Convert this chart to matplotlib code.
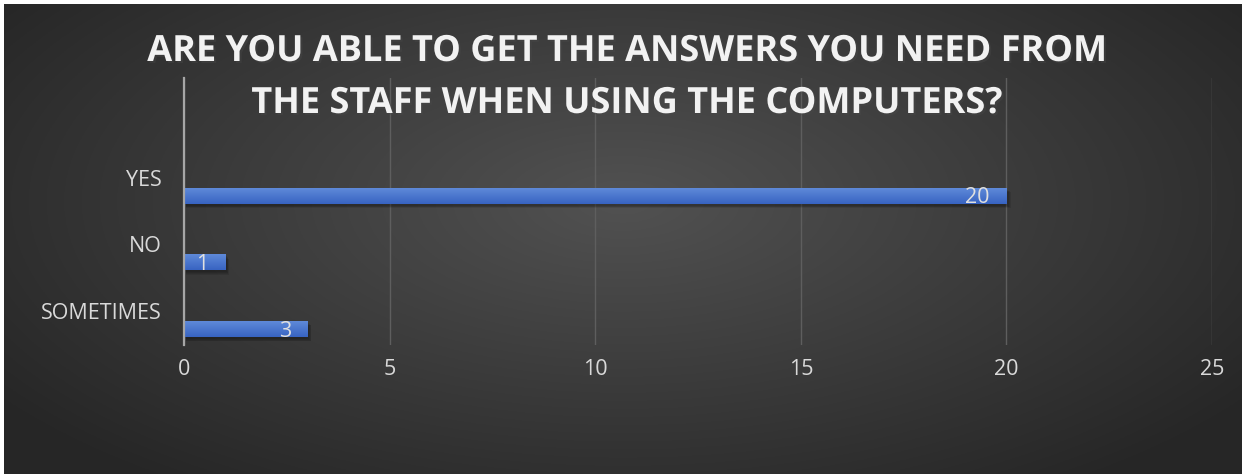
import numpy as np
import matplotlib
matplotlib.use('Agg')
import matplotlib.pyplot as plt
import matplotlib.patheffects as pe

categories = ['SOMETIMES', 'NO', 'YES']
counts = [3, 1, 20]
x_ticks = [0, 5, 10, 15, 20, 25]
title_lines = ['ARE YOU ABLE TO GET THE ANSWERS YOU NEED FROM',
               'THE STAFF WHEN USING THE COMPUTERS?']

W, H = 1242, 474
fig = plt.figure(figsize=(W / 100, H / 100), dpi=100)
fig.patch.set_facecolor('white')

# dark radial background, leaving a thin white strip top and left
bg = fig.add_axes([4 / W, 0, 1 - 4 / W, 1 - 4 / H])
bg.set_axis_off()
yy, xx = np.mgrid[0:1:300j, 0:1:700j]
r = np.sqrt(((xx - 0.5) / 0.62) ** 2 + ((yy - 0.42) / 0.75) ** 2)
shade = np.clip(0.32 - 0.17 * r, 0.15, 0.33)
bg.imshow(np.dstack([shade] * 3), extent=[0, 1, 0, 1], aspect='auto', origin='upper')
bg.set_xlim(0, 1)
bg.set_ylim(0, 1)

ax = fig.add_axes([184 / W, 1 - 345 / H, (1212 - 184) / W, (345 - 78) / H])
ax.patch.set_alpha(0)
ypos = np.arange(len(categories))
bar_y = ypos - 0.27
bar_h = 0.24

for v, y in zip(counts, bar_y):
    # soft shadow under the bar
    for k in range(4):
        ax.barh(y - 0.03 - 0.012 * k, v + 0.02 * k, height=bar_h, left=0.04,
                color='black', alpha=0.09, linewidth=0, zorder=2)
    grad = np.linspace(0, 1, 50).reshape(-1, 1)
    top = np.array([0.37, 0.54, 0.85])
    bot = np.array([0.22, 0.39, 0.76])
    img = top + (bot - top) * grad[:, :, None]
    ax.imshow(img, extent=[0, v, y - bar_h / 2, y + bar_h / 2], aspect='auto',
              origin='upper', zorder=3)
    ax.text(v - 0.4, y - 0.03, str(v), ha='right', va='center',
            color='#e0e0e0', fontsize=15.5, family='Open Sans', zorder=4)

ax.set_xlim(0, 25)
ax.set_ylim(-0.51, 3.5)
ax.set_xticks(x_ticks)
ax.set_yticks(ypos)
ax.set_yticklabels(categories)
ax.grid(axis='x', color='#5e5e5e', linewidth=1, zorder=0)
ax.set_axisbelow(True)
for s in ['top', 'right', 'bottom']:
    ax.spines[s].set_visible(False)
ax.spines['left'].set_color('#a6a6a6')
ax.spines['left'].set_linewidth(1.6)
ax.spines['left'].set_zorder(5)
ax.tick_params(axis='both', length=0, colors='#d9d9d9', labelsize=15.5)
ax.tick_params(axis='x', pad=10)
ax.tick_params(axis='y', pad=16)
for lab in ax.get_xticklabels() + ax.get_yticklabels():
    lab.set_family('Open Sans')

for i, line in enumerate(title_lines):
    fig.text(0.505, 1 - (52 + 52 * i) / H, line, ha='center', va='center',
             color='#f2f2f2', fontsize=26, fontweight='bold', family='Open Sans',
             path_effects=[pe.withSimplePatchShadow(offset=(1.5, -1.5), alpha=0.4)])

fig.savefig('out.png', dpi=100, facecolor=fig.get_facecolor())
